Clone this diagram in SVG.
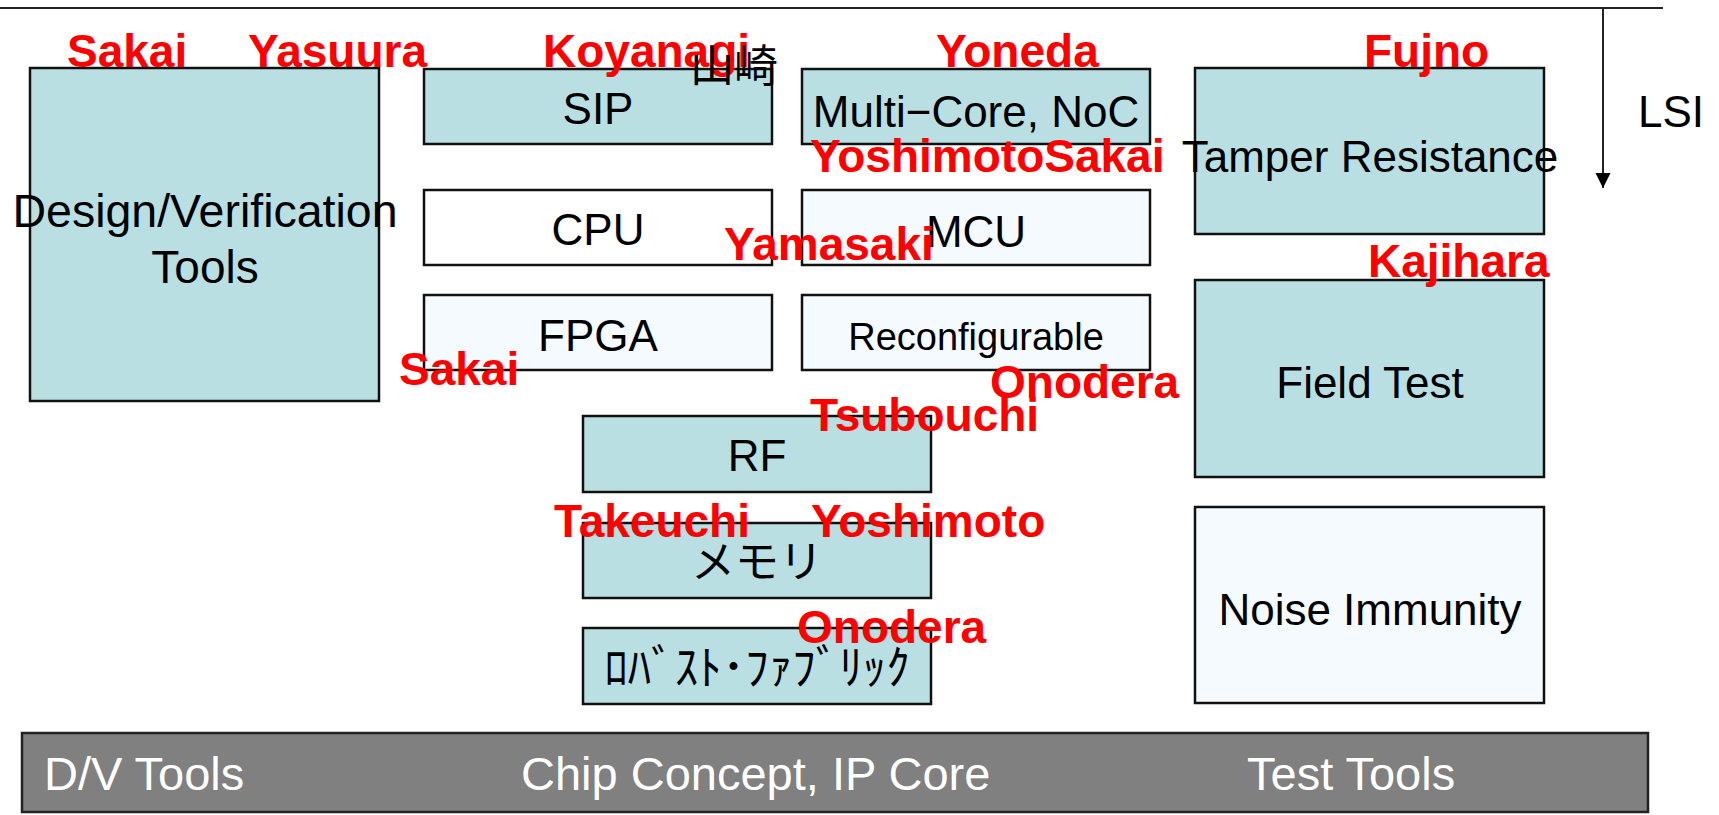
<svg xmlns="http://www.w3.org/2000/svg" width="1719" height="815" viewBox="0 0 1719 815">
<style>
.box{stroke:#111;stroke-width:2.5}
.teal{fill:#B9DFE2}
.light{fill:#F5FAFE}
.white{fill:#FFFFFF}
.t{font-family:"Liberation Sans","Noto Sans CJK JP",sans-serif;font-size:44px;fill:#000;text-anchor:middle}
.jp{font-family:"Noto Sans CJK JP","Liberation Sans",sans-serif}
.red{font-family:"Liberation Sans","Noto Sans CJK JP",sans-serif;font-size:46px;font-weight:bold;fill:#FF0000}
.bar{font-family:"Liberation Sans",sans-serif;font-size:47px;fill:#FFFFFF}
</style>
<defs>
<marker id="ah" markerWidth="16" markerHeight="16" refX="15" refY="7.5" orient="auto" markerUnits="userSpaceOnUse">
<path d="M0,0 L15,7.5 L0,15 Z" fill="#000"/>
</marker>
</defs>
<rect width="1719" height="815" fill="#FFFFFF"/>
<g id="connectors">
<line x1="0" y1="8" x2="1663" y2="8" stroke="#222" stroke-width="2"/>
<line x1="1603" y1="8" x2="1603" y2="188" stroke="#222" stroke-width="2" marker-end="url(#ah)"/>
</g>
<g id="lsi"><text class="t" x="1671" y="127">LSI</text></g>
<g id="design"><rect class="box teal" x="30" y="68" width="349" height="333"/>
<text class="t" x="205" y="227" style="font-size:46.5px">Design/Verification</text><text class="t" x="205" y="283" style="font-size:46px">Tools</text></g>
<g id="sip"><rect class="box teal" x="424" y="69" width="348" height="75"/><text class="t" x="598" y="124">SIP</text></g>
<g id="cpu"><rect class="box white" x="424" y="190" width="348" height="75"/><text class="t" x="598" y="245">CPU</text></g>
<g id="fpga"><rect class="box light" x="424" y="295" width="348" height="75"/><text class="t" x="598" y="351">FPGA</text></g>
<g id="multicore"><rect class="box teal" x="802" y="69" width="348" height="75"/><text class="t" x="976" y="127">Multi−Core, NoC</text></g>
<g id="mcu"><rect class="box light" x="802" y="190" width="348" height="75"/><text class="t" x="976" y="247">MCU</text></g>
<g id="reconf"><rect class="box light" x="802" y="295" width="348" height="75"/><text class="t" x="976" y="350" style="font-size:38px">Reconfigurable</text></g>
<g id="tamper"><rect class="box teal" x="1195" y="68" width="349" height="166"/><text class="t" x="1370" y="172">Tamper Resistance</text></g>
<g id="field"><rect class="box teal" x="1195" y="280" width="349" height="197"/><text class="t" x="1370" y="398">Field Test</text></g>
<g id="noise"><rect class="box light" x="1195" y="507" width="349" height="196"/><text class="t" x="1370" y="625">Noise Immunity</text></g>
<g id="rf"><rect class="box teal" x="583" y="416" width="348" height="76"/><text class="t" x="757" y="471">RF</text></g>
<g id="memory"><rect class="box teal" x="583" y="523" width="348" height="75"/><text class="t jp" x="757" y="578">メモリ</text></g>
<g id="robust"><rect class="box teal" x="583" y="628" width="348" height="76"/><text class="t jp" x="757" y="684" style="font-size:47px">ﾛﾊﾞｽﾄ･ﾌｧﾌﾞﾘｯｸ</text></g>
<g id="bottombar"><rect x="22" y="733" width="1626" height="79" fill="#808080" stroke="#222" stroke-width="2.5"/>
<text class="bar" x="44" y="790">D/V Tools</text>
<text class="bar" x="521" y="790">Chip Concept, IP Core</text>
<text class="bar" x="1247" y="790">Test Tools</text></g>
<g id="names">
<text class="red" x="67" y="67">Sakai</text>
<text class="red" x="248" y="67">Yasuura</text>
<text class="red" x="543" y="67">Koyanagi</text>
<text class="red" x="936" y="67">Yoneda</text>
<text class="red" x="1364" y="67">Fujno</text>
<text class="red" x="810" y="172">YoshimotoSakai</text>
<text class="red" x="724" y="260">Yamasaki</text>
<text class="red" x="1368" y="277">Kajihara</text>
<text class="red" x="399" y="385">Sakai</text>
<text class="red" x="990" y="398">Onodera</text>
<text class="red" x="810" y="431">Tsubouchi</text>
<text class="red" x="554" y="537">Takeuchi</text>
<text class="red" x="811" y="537">Yoshimoto</text>
<text class="red" x="797" y="643">Onodera</text>
</g>
<g id="yamazaki"><text class="t jp" x="690" y="82" style="text-anchor:start">山崎</text></g>
</svg>
